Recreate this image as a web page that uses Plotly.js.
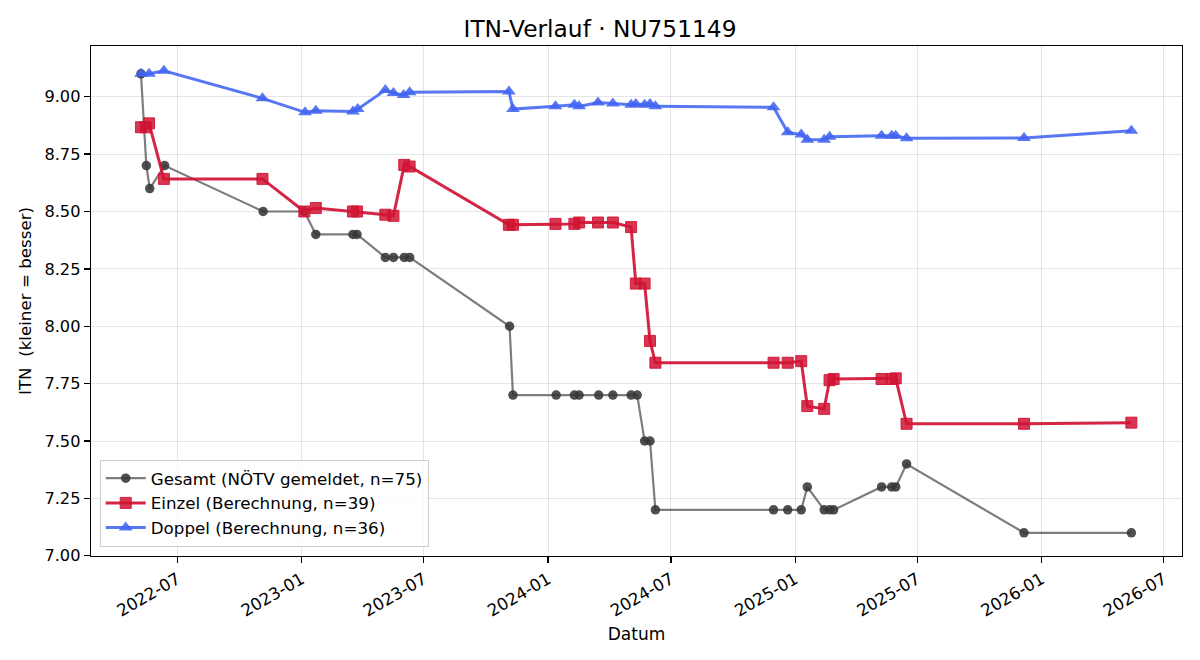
<!DOCTYPE html>
<html><head><meta charset="utf-8">
<script src="https://cdn.plot.ly/plotly-3.0.1.min.js"></script>
<style>html,body{margin:0;padding:0;background:#fff}#c{width:1200px;height:660px}</style>
</head><body><div id="c"></div>
<script>
const gesamtDates = ['2022-05-08','2022-05-16','2022-05-21','2022-06-12','2022-11-05','2023-01-05','2023-01-22','2023-03-18','2023-03-24','2023-05-05','2023-05-17','2023-06-02','2023-06-10','2023-11-05','2023-11-10','2024-01-13','2024-02-09','2024-02-16','2024-03-16','2024-04-06','2024-05-03','2024-05-12','2024-05-23','2024-05-31','2024-06-08','2024-11-30','2024-12-21','2025-01-10','2025-01-19','2025-02-13','2025-02-21','2025-02-27','2025-05-09','2025-05-24','2025-05-30','2025-06-15','2025-12-06','2026-05-14'];
const gesamtVals = [9.10,8.70,8.60,8.70,8.50,8.50,8.40,8.40,8.40,8.30,8.30,8.30,8.30,8.00,7.70,7.70,7.70,7.70,7.70,7.70,7.70,7.70,7.50,7.50,7.20,7.20,7.20,7.20,7.30,7.20,7.20,7.20,7.30,7.30,7.30,7.40,7.10,7.10];

const einzelDates = ['2022-05-08','2022-05-15','2022-05-20','2022-06-11','2022-11-04','2023-01-05','2023-01-22','2023-03-18','2023-03-24','2023-05-05','2023-05-17','2023-06-02','2023-06-10','2023-11-04','2023-11-10','2024-01-12','2024-02-09','2024-02-16','2024-03-15','2024-04-06','2024-05-03','2024-05-10','2024-05-23','2024-05-31','2024-06-08','2024-11-30','2024-12-21','2025-01-10','2025-01-19','2025-02-13','2025-02-21','2025-02-27','2025-05-09','2025-05-24','2025-05-30','2025-06-15','2025-12-06','2026-05-14'];
const einzelVals = [8.867,8.867,8.884,8.642,8.642,8.500,8.515,8.500,8.500,8.486,8.481,8.703,8.696,8.442,8.442,8.446,8.446,8.452,8.452,8.452,8.432,8.186,8.186,7.936,7.841,7.841,7.841,7.848,7.652,7.640,7.765,7.770,7.770,7.770,7.773,7.575,7.575,7.580];

const doppelDates = ['2022-05-08','2022-05-20','2022-06-11','2022-11-04','2023-01-06','2023-01-22','2023-03-18','2023-03-25','2023-05-05','2023-05-17','2023-06-01','2023-06-10','2023-11-04','2023-11-10','2024-01-12','2024-02-09','2024-02-16','2024-03-15','2024-04-06','2024-05-03','2024-05-10','2024-05-23','2024-05-31','2024-06-08','2024-11-30','2024-12-21','2025-01-10','2025-01-19','2025-02-13','2025-02-21','2025-05-09','2025-05-24','2025-05-30','2025-06-15','2025-12-06','2026-05-14'];
const doppelVals = [9.100,9.100,9.113,8.993,8.932,8.939,8.936,8.946,9.029,9.016,9.007,9.019,9.023,8.946,8.958,8.965,8.958,8.975,8.971,8.965,8.968,8.965,8.968,8.958,8.954,8.845,8.835,8.812,8.812,8.826,8.830,8.830,8.830,8.819,8.820,8.852];

const names = ['Gesamt (NÖTV gemeldet, n=75)','Einzel (Berechnung, n=39)','Doppel (Berechnung, n=36)'];
const yTicks = [7.00,7.25,7.50,7.75,8.00,8.25,8.50,8.75,9.00];
const xTicks = ['2022-07-01','2023-01-01','2023-07-01','2024-01-01','2024-07-01','2025-01-01','2025-07-01','2026-01-01','2026-07-01'];

const font = 'DejaVu Sans, sans-serif';
const traces = [
  {x: gesamtDates, y: gesamtVals, name: names[0], type:'scatter', mode:'lines+markers',
   line:{color:'rgba(75,75,75,0.72)', width:2.2},
   marker:{symbol:'circle', size:9.5, color:'rgba(55,55,55,0.88)'}},
  {x: einzelDates, y: einzelVals, name: names[1], type:'scatter', mode:'lines+markers',
   line:{color:'rgba(208,20,52,0.92)', width:3},
   marker:{symbol:'square', size:11, color:'rgba(208,20,52,0.85)', line:{color:'rgba(208,20,52,0.9)', width:1}}},
  {x: doppelDates, y: doppelVals, name: names[2], type:'scatter', mode:'lines+markers',
   line:{color:'rgba(65,100,240,0.88)', width:3},
   marker:{symbol:'triangle-up', size:12, color:'rgba(65,100,240,0.88)'}}
];

const layout = {
  width:1200, height:660,
  margin:{l:91, r:18, t:46, b:104},
  paper_bgcolor:'#fff', plot_bgcolor:'#fff',
  font:{family:font, size:16.7, color:'#000'},
  title:{text:'ITN-Verlauf · NU751149', font:{family:font, size:23.3, color:'#000'}, x:0.5, xanchor:'center', y:0.957, yanchor:'middle'},
  xaxis:{
    type:'date', range:['2022-02-23','2026-07-28'],
    tickmode:'array', tickvals:xTicks, ticktext:xTicks.map(d=>d.slice(0,7)),
    tickangle:-30, ticks:'outside', ticklen:6, tickcolor:'#000', tickwidth:1.3,
    showline:true, mirror:true, linecolor:'#000', linewidth:1.3,
    showgrid:true, gridcolor:'rgba(0,0,0,0.1)', zeroline:false,
    tickfont:{family:font, size:16.7},
    title:{text:'Datum', font:{family:font, size:17}, standoff:8}
  },
  yaxis:{
    range:[6.999, 9.221], tickmode:'array', tickvals:yTicks, ticktext:yTicks.map(v=>v.toFixed(2)),
    ticks:'outside', ticklen:6, tickcolor:'#000', tickwidth:1.3,
    showline:true, mirror:true, linecolor:'#000', linewidth:1.3,
    showgrid:true, gridcolor:'rgba(0,0,0,0.1)', zeroline:false,
    tickfont:{family:font, size:16.2},
    title:{text:'ITN\u00a0 (kleiner = besser)', font:{family:font, size:16.7}, standoff:8}
  },
  legend:{x:0.008, y:0.018, xanchor:'left', yanchor:'bottom',
    bgcolor:'rgba(255,255,255,0.8)', bordercolor:'#cccccc', borderwidth:1,
    font:{family:font, size:16.7}, tracegroupgap:0, itemwidth:40},
  showlegend:true
};
Plotly.newPlot('c', traces, layout, {displayModeBar:false, staticPlot:true});
</script></body></html>
